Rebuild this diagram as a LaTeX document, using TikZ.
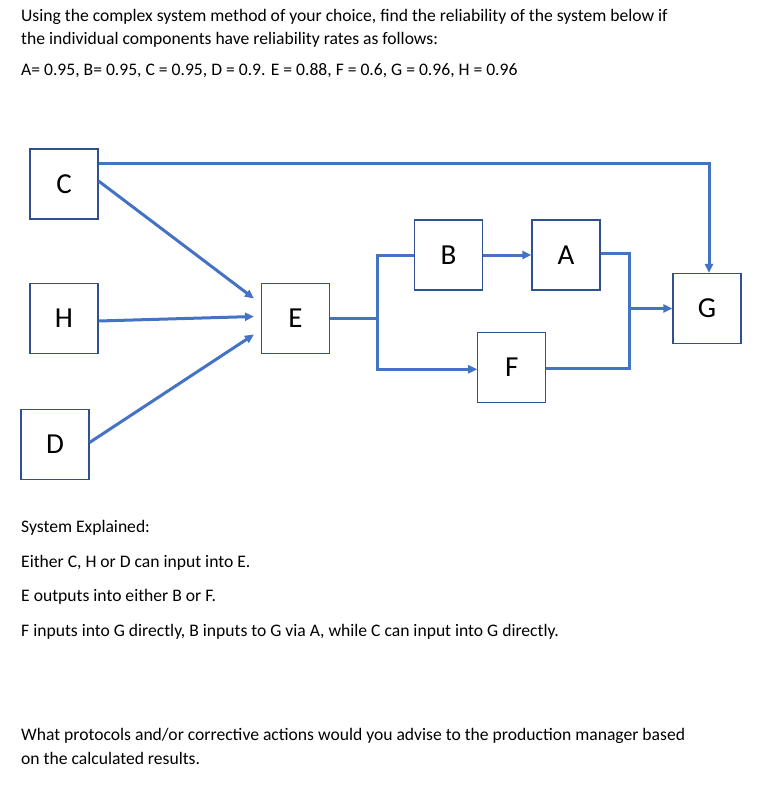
\documentclass[tikz,border=0pt]{standalone}
\usepackage{fontspec}
\setmainfont{Carlito}
\usepackage{tikz}
\usetikzlibrary{positioning}
\usetikzlibrary{arrows.meta}
\definecolor{linkblue}{HTML}{4472C4}
\definecolor{edgeblue}{HTML}{2F528F}

\begin{document}
\begin{tikzpicture}[x=1pt,y=-1pt,node distance=134.5pt,on grid,>={Triangle[length=9pt,width=8pt]},
		unit/.style={rectangle,draw=edgeblue,line width=1.1pt,minimum width=68pt,minimum height=70pt,inner sep=0pt,font=\fontsize{29}{29}\selectfont},
		link/.style={draw=linkblue,line width=3pt,line join=miter},
		txt/.style={anchor=base west,inner sep=0pt,font=\fontsize{17.6}{20}\selectfont}]
		\useasboundingbox (0,0) rectangle (765,786);
		% question text
		\node[txt] (q1) at (21,22) {Using the complex system method of your choice, find the reliability of the system below if};
		\node[txt] (q2) at (21,44.5) {the individual components have reliability rates as follows:};
		\node[txt] (q3) at (21,75.5) {A= 0.95, B= 0.95, C = 0.95, D = 0.9. E = 0.88, F = 0.6, G = 0.96, H = 0.96};
		
		% units
		\node[unit]  (C) at (64,184)      {C};
		\node[unit]  (H) [below=of C]     {H};
		\node[unit]  (D) [below=126pt of H, xshift=-9pt] {D};
		\node[unit]  (E) [right=231.5pt of H] {E};
		\node[unit]  (B) at (448.5,255)   {B};
		\node[unit]  (A) [right=117.5pt of B] {A};
		\node[unit]  (F) at (511.7,367.3) {F};
		\node[unit]  (G) at (707,308.5)   {G};
		
		\coordinate (split) at ([xshift=47.8pt]E.east);
		\coordinate (merge) at ([xshift=-42.5pt]G.west);
		
		% connectors
		\draw[link,->] ([yshift=20pt]C.east) -| ([xshift=2pt]G.north);
		\draw[link,->] ([yshift=3pt]C.east) -- ([xshift=-7pt,yshift=20pt]E.west);
		\draw[link,->] ([yshift=-2.5pt]H.east) -- ([xshift=-7pt,yshift=2pt]E.west);
		\draw[link,->] ([yshift=2pt]D.east) -- ([xshift=-7pt,yshift=-16pt]E.west);
		\draw[link] (E.east) -- (split);
		\draw[link] (B.west) -| (split);
		\draw[link,->] (split) |- ([yshift=-2pt]F.west);
		\draw[link,->] (B.east) -- (A.west);
		\draw[link] ([yshift=2pt]A.east) -| (merge);
		\draw[link] ([yshift=-1pt]F.east) -| (merge);
		\draw[link,->] (merge) -- (G.west);
		
		% explanation
		\node[txt] (s0) at (21,532.5) {System Explained:};
		\node[txt] (s1) at (21,567)   {Either C, H or D can input into E.};
		\node[txt] (s2) at (21,601.5) {E outputs into either B or F.};
		\node[txt] (s3) at (21,636)   {F inputs into G directly, B inputs to G via A, while C can input into G directly.};
		\node[txt] (w1) at (21,740.5) {What protocols and/or corrective actions would you advise to the production manager based};
		\node[txt] (w2) at (21,764)   {on the calculated results.};
		\end{tikzpicture}
\end{document}
